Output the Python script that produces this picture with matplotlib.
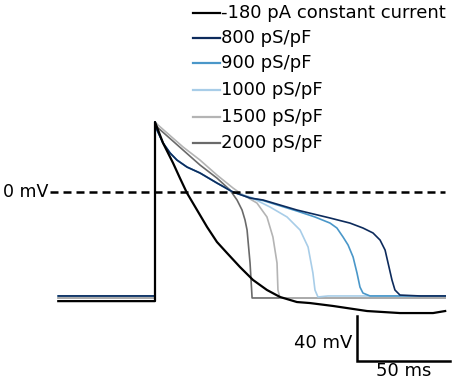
import matplotlib
matplotlib.use("Agg")
import matplotlib.pyplot as plt

# ---- data (time in ms, voltage in mV) ----
t_black = [-52, 0, 0, 4.3, 9.7, 13.4, 17.2, 22.6, 28, 33.3, 38.7, 45.7, 52.7, 60.2, 67.2, 76.3, 83.3, 95.7, 114, 131.7, 149.5, 156]
v_black = [-97, -97, 62.2, 43.6, 25.8, 12.4, -0.9, -16, -31.1, -44.4, -54.2, -66.7, -78.2, -87.1, -93.3, -97.8, -98.7, -101.3, -105.8, -107.6, -107.6, -105.8]

t_800 = [-52, 0, 0, 1.1, 4.3, 8.1, 11.8, 17.2, 24.2, 33.3, 41.9, 51.1, 58.1, 76.3, 94.1, 104.8, 111.8, 117.2, 121, 123.7, 125.3, 127.4, 129, 131.7, 142.5, 156]
v_800 = [-92.4, -92.4, 62.2, 55.1, 43.6, 34.7, 28.4, 22.2, 16.9, 8, 0, -5.3, -7.1, -16, -23.1, -27.6, -32, -36.4, -42.7, -51.6, -63.1, -78.2, -87.1, -91.6, -92.4, -92.4]

t_900 = [-52, 0, 0, 1.1, 4.3, 8.1, 11.8, 17.2, 24.2, 33.3, 41.9, 51.1, 58.1, 76.3, 86, 94.1, 97.8, 101.1, 103.8, 106.5, 108.6, 110.2, 111.8, 115.6, 156]
v_900 = [-92.4, -92.4, 62.2, 55.1, 43.6, 34.7, 28.4, 22.2, 16.9, 8, 0, -5.3, -7.6, -16.9, -22.2, -27.6, -32, -40, -47.1, -57.8, -72, -84.5, -89.8, -92.4, -92.4]

t_1000 = [-52, 0, 0, 1.1, 4.3, 8.1, 11.8, 17.2, 24.2, 33.3, 41.9, 51.1, 61.8, 71, 78, 82.3, 84.9, 86, 87.6, 93, 156]
v_1000 = [-92.4, -92.4, 62.2, 55.1, 43.6, 34.7, 28.4, 22.2, 16.9, 8, 0, -4.4, -13.3, -22.2, -33.8, -48.9, -72, -87.1, -93.3, -92.4, -92.4]

t_1500 = [-52, 0, 0, 1.6, 15.1, 24.2, 33.3, 41.9, 45.7, 54.8, 60.2, 63.4, 65.6, 66.1, 67.2, 156]
v_1500 = [-94.2, -94.2, 62.2, 59.6, 40, 28.4, 15.1, 3.6, -0.9, -9.8, -22.2, -40, -63.1, -87.1, -94.2, -94.2]

t_2000 = [-52, 0, 0, 1.1, 15.1, 24.2, 33.3, 40.3, 44.1, 46.8, 48.4, 49.5, 51.1, 52.2, 156]
v_2000 = [-94.2, -94.2, 62.2, 57.8, 37.3, 24, 12.4, 1.8, -7.1, -16, -24.9, -33.8, -63.1, -94.2, -94.2]

labels = ["-180 pA constant current", "800 pS/pF", "900 pS/pF",
          "1000 pS/pF", "1500 pS/pF", "2000 pS/pF"]
colors = ["#000000", "#0d2b5c", "#4a97c9", "#a8cde8", "#b4b4b4", "#6a6a6a"]

fig = plt.figure(figsize=(4.54, 3.81), dpi=100)
ax = fig.add_axes([0, 0, 1, 1])
ax.set_xlim(-83.33, 160.75)
ax.set_ylim(-168.0, 170.7)
ax.axis("off")

series = [(t_black, v_black), (t_800, v_800), (t_900, v_900),
          (t_1000, v_1000), (t_1500, v_1500), (t_2000, v_2000)]
lws = [1.6, 1.2, 1.2, 1.2, 1.2, 1.2]
for i in [5, 4, 3, 2, 1, 0]:
    t, v = series[i]
    ax.plot(t, v, color=colors[i], lw=lws[i], solid_joinstyle="round")

# 0 mV dashed line
ax.plot([-56.5, 156], [0, 0], color="black", lw=1.8, linestyle=(0, (3.2, 2.0)))
ax.text(-57.5, 0, "0 mV", ha="right", va="center", fontsize=12.5)

# scale bar
ax.plot([108.6, 108.6, 158.6], [-110.2, -150.2, -150.2], color="black", lw=1.8,
        solid_joinstyle="miter")
ax.text(106, -134, "40 mV", ha="right", va="center", fontsize=13)
ax.text(133.6, -159, "50 ms", ha="center", va="center", fontsize=13)

# legend
rows = [13, 38, 63, 90, 117, 143]
for lab, col, ry in zip(labels, colors, rows):
    yf = 1 - ry / 381
    ax.plot([193 / 454, 220 / 454], [yf, yf], color=col, lw=1.6, transform=ax.transAxes)
    ax.text(221 / 454, yf, lab, ha="left", va="center", fontsize=13,
            transform=ax.transAxes)

fig.savefig("out.png", dpi=100)
